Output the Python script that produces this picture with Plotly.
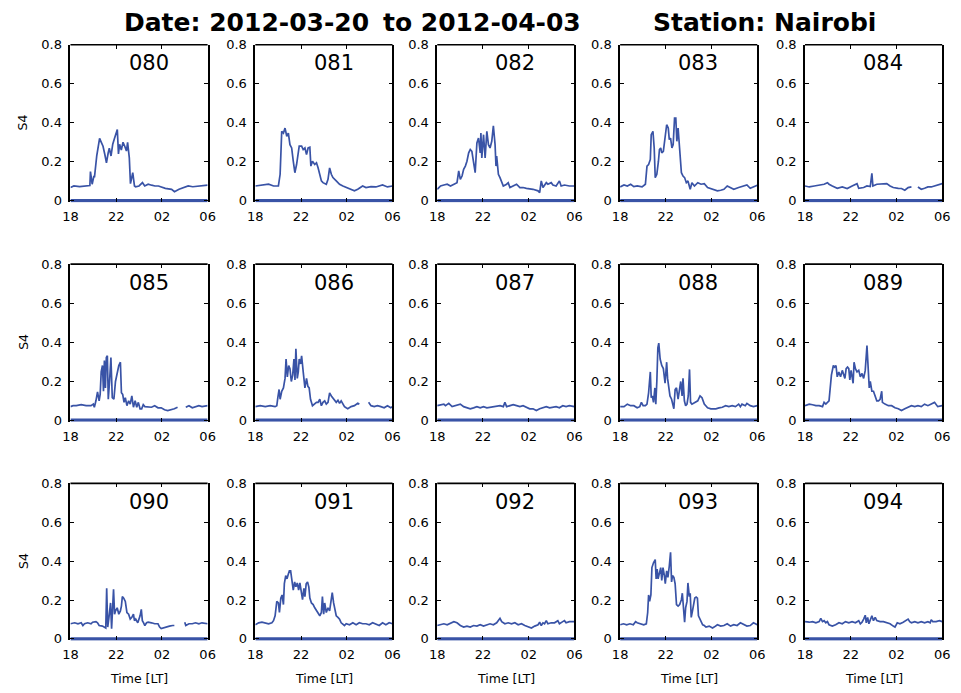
import plotly.graph_objects as go

DAYS = ["080", "081", "082", "083", "084", "085", "086", "087",
        "088", "089", "090", "091", "092", "093", "094"]
X_TICKVALS = [18, 22, 26, 30]
X_TICKTEXT = ["18", "22", "02", "06"]
Y_TICKVALS = [0, 0.2, 0.4, 0.6, 0.8]
Y_TICKTEXT = ["0", "0.2", "0.4", "0.6", "0.8"]
TITLE_DATE_FROM = "Date: 2012-03-20"
TITLE_DATE_TO = "to 2012-04-03"
TITLE_STATION = "Station: Nairobi"
Y_LABEL = "S4"
X_LABEL = "Time [LT]"

# (local time in hours after 18:00 expressed as 18..30, S4 value); None = data gap
D080 = [(18.0, .068), (18.3, .076), (18.8, .073), (19.3, .076), (19.7, .078), (19.75, .15), (19.9, .085),
        (20.05, .127), (20.1, .12), (20.3, .23), (20.55, .32), (20.7, .30), (20.85, .28), (21.0, .24),
        (21.15, .195), (21.3, .245), (21.4, .27), (21.55, .23), (21.7, .29), (21.85, .32), (22.0, .35),
        (22.1, .365), (22.2, .24), (22.3, .29), (22.45, .26), (22.6, .30), (22.75, .28), (22.9, .255),
        (23.0, .30), (23.15, .22), (23.25, .088), (23.35, .12), (23.45, .144), (23.6, .076), (23.7, .072),
        (24.0, .076), (24.3, .093), (24.5, .076), (24.8, .085), (25.1, .080), (25.4, .076), (25.7, .076),
        (26.3, .064), (26.85, .059), (27.1, .047), (27.5, .059), (27.9, .068), (28.3, .076), (28.7, .072),
        (29.2, .074), (30.0, .080)]
D081 = [(18.0, .076), (19.16, .085), (19.6, .076), (20.02, .076), (20.17, .136), (20.31, .356), (20.46, .347),
        (20.6, .373), (20.75, .331), (20.89, .347), (21.03, .288), (21.18, .271), (21.32, .203), (21.46, .144),
        (21.61, .186), (21.76, .237), (21.84, .28), (22.05, .28), (22.19, .263), (22.34, .271), (22.48, .237),
        (22.62, .271), (22.77, .275), (22.86, .178), (23.0, .203), (23.2, .186), (23.35, .195), (23.49, .169),
        (23.64, .127), (23.78, .102), (23.92, .093), (24.21, .085), (24.36, .11), (24.5, .169), (24.65, .136),
        (24.79, .119), (25.08, .102), (25.37, .085), (25.66, .076), (25.95, .068), (26.38, .059), (26.67, .051),
        (26.96, .059), (27.39, .076), (27.68, .068), (28.12, .073), (28.55, .071), (29.13, .081), (29.56, .071),
        (30.0, .076)]
D082 = [(18.0, .059), (18.29, .076), (18.58, .081), (18.87, .085), (19.16, .076), (19.45, .085), (19.73, .093),
        (19.88, .153), (20.02, .11), (20.17, .127), (20.31, .161), (20.46, .178), (20.6, .203), (20.75, .246),
        (20.89, .263), (21.03, .254), (21.18, .203), (21.32, .144), (21.47, .297), (21.61, .322), (21.76, .246),
        (21.82, .347), (21.9, .22), (22.05, .339), (22.19, .22), (22.34, .356), (22.48, .288), (22.62, .271),
        (22.77, .305), (22.91, .385), (23.06, .288), (23.14, .178), (23.2, .229), (23.35, .136), (23.49, .119),
        (23.64, .093), (23.78, .076), (24.07, .085), (24.21, .093), (24.36, .068), (24.65, .076), (24.94, .085),
        (25.23, .068), (25.51, .068), (25.8, .064), (26.09, .063), (26.38, .059), (26.82, .051), (26.96, .042),
        (27.1, .102), (27.25, .068), (27.54, .093), (27.68, .085), (27.97, .093), (28.12, .081), (28.4, .076),
        (28.69, .102), (28.84, .076), (29.13, .081), (29.56, .076), (30.0, .076)]
D083 = [(18.0, .071), (18.34, .081), (18.63, .076), (18.92, .085), (19.2, .073), (19.49, .076), (19.92, .071),
        (20.21, .085), (20.35, .178), (20.49, .186), (20.64, .212), (20.72, .339), (20.87, .356), (20.98, .271),
        (21.07, .119), (21.21, .136), (21.35, .203), (21.44, .263), (21.55, .271), (21.64, .246), (21.78, .254),
        (21.93, .322), (22.07, .39), (22.21, .373), (22.3, .314), (22.41, .322), (22.53, .271), (22.64, .288),
        (22.76, .424), (22.87, .424), (22.96, .305), (23.07, .373), (23.21, .237), (23.36, .144), (23.5, .127),
        (23.64, .119), (23.79, .093), (23.93, .102), (24.13, .059), (24.28, .093), (24.5, .076), (24.79, .093),
        (25.08, .085), (25.36, .088), (25.65, .068), (25.94, .063), (26.22, .056), (26.51, .051), (26.8, .054),
        (27.08, .059), (27.37, .076), (27.66, .068), (27.94, .059), (28.37, .068), (28.8, .076), (29.09, .081),
        (29.38, .064), (29.66, .071), (30.0, .08)]
D084 = [(18.0, .076), (18.37, .071), (18.81, .076), (19.24, .081), (19.67, .085), (19.96, .093), (20.1, .085),
        (20.39, .076), (20.82, .064), (21.26, .071), (21.69, .063), (22.12, .076), (22.55, .088), (22.7, .064),
        (23.13, .068), (23.42, .076), (23.71, .073), (23.85, .141), (23.94, .076), (24.28, .085), (24.86, .085),
        (25.15, .088), (25.44, .076), (25.72, .068), (26.16, .064), (26.44, .063), (26.73, .054), (27.02, .068),
        (27.31, .071), (27.6, None), (27.88, .071), (28.17, .059), (28.46, .064), (28.75, .071), (29.04, .071),
        (29.33, .076), (29.61, .081), (30.0, .088)]
D085 = [(18.0, .069), (18.23, .074), (18.51, .074), (18.94, .079), (19.37, .074), (19.8, .074), (20.0, .082),
        (20.09, .066), (20.23, .099), (20.37, .145), (20.51, .099), (20.6, .132), (20.69, .247), (20.8, .28),
        (20.89, .148), (20.97, .305), (21.06, .165), (21.14, .321), (21.23, .33), (21.31, .107), (21.43, .206),
        (21.54, .321), (21.66, .115), (21.8, .107), (21.94, .198), (22.09, .247), (22.23, .28), (22.37, .297),
        (22.46, .14), (22.57, .132), (22.69, .091), (22.8, .115), (22.94, .074), (23.09, .099), (23.23, .082),
        (23.37, .124), (23.51, .066), (23.66, .099), (23.8, .066), (23.94, .091), (24.09, .058), (24.23, .058),
        (24.37, .079), (24.51, .069), (24.8, .069), (25.09, .066), (25.37, .074), (25.66, .063), (25.94, .063),
        (26.23, .053), (26.51, .049), (26.8, .053), (27.09, .058), (27.37, .066), (27.7, None), (28.09, .066),
        (28.37, .074), (28.66, .063), (28.94, .069), (29.23, .074), (29.51, .069), (30.0, .074)]
D086 = [(18.0, .069), (18.43, .074), (18.87, .069), (19.3, .074), (19.73, .069), (19.88, .074), (19.97, .115),
        (20.08, .157), (20.17, .107), (20.31, .148), (20.46, .165), (20.6, .214), (20.69, .313), (20.8, .222),
        (20.92, .28), (21.03, .264), (21.15, .198), (21.27, .231), (21.38, .313), (21.47, .206), (21.55, .366),
        (21.67, .214), (21.76, .247), (21.84, .313), (21.96, .288), (22.05, .33), (22.19, .247), (22.34, .165),
        (22.48, .214), (22.6, .173), (22.71, .165), (22.83, .107), (23.0, .074), (23.2, .082), (23.35, .091),
        (23.49, .091), (23.64, .107), (23.78, .074), (23.92, .091), (24.07, .099), (24.21, .082), (24.36, .091),
        (24.5, .14), (24.65, .124), (24.79, .112), (24.94, .099), (25.08, .091), (25.23, .102), (25.37, .086),
        (25.51, .099), (25.66, .082), (25.8, .069), (25.95, .063), (26.09, .058), (26.38, .069), (26.67, .074),
        (26.96, .086), (27.1, .082), (27.5, None), (27.91, .091), (28.12, .074), (28.4, .069), (28.69, .074),
        (28.98, .069), (29.27, .063), (29.56, .074), (29.85, .063), (30.0, .069)]
D087 = [(18.0, .074), (18.29, .079), (18.58, .082), (18.72, .074), (19.01, .086), (19.3, .069), (19.59, .074),
        (19.88, .082), (20.02, .082), (20.31, .069), (20.6, .063), (20.89, .058), (21.18, .063), (21.47, .069),
        (21.76, .063), (22.05, .069), (22.34, .063), (22.62, .066), (22.91, .069), (23.2, .074), (23.49, .074),
        (23.78, .069), (23.92, .091), (24.07, .069), (24.36, .074), (24.65, .079), (24.94, .074), (25.23, .069),
        (25.51, .074), (25.8, .066), (26.09, .058), (26.38, .058), (26.67, .049), (26.96, .058), (27.25, .063),
        (27.54, .069), (27.83, .063), (28.12, .066), (28.4, .069), (28.69, .063), (28.98, .074), (29.27, .069),
        (29.56, .074), (30.0, .069)]
D088 = [(18.0, .069), (18.34, .069), (18.63, .082), (18.92, .074), (19.2, .074), (19.49, .063), (19.72, .069),
        (19.86, .091), (20.01, .074), (20.21, .074), (20.35, .082), (20.49, .14), (20.64, .247), (20.72, .115),
        (20.81, .124), (20.92, .091), (21.04, .165), (21.12, .082), (21.21, .198), (21.3, .371), (21.38, .395),
        (21.5, .313), (21.64, .28), (21.78, .264), (21.93, .189), (22.07, .297), (22.15, .214), (22.27, .165),
        (22.36, .124), (22.5, .107), (22.7, .058), (22.81, .157), (22.93, .165), (23.07, .107), (23.21, .157),
        (23.3, .198), (23.42, .124), (23.5, .214), (23.62, .099), (23.73, .074), (23.85, .082), (23.96, .124),
        (24.07, .26), (24.16, .091), (24.28, .082), (24.42, .086), (24.56, .091), (24.79, .099), (24.99, .124),
        (25.16, .115), (25.36, .082), (25.65, .063), (25.94, .058), (26.37, .058), (26.65, .063), (26.94, .066),
        (27.23, .074), (27.51, .069), (27.8, .074), (28.09, .069), (28.37, .082), (28.52, .069), (28.66, .082),
        (28.95, .074), (29.09, .086), (29.38, .074), (29.66, .069), (30.0, .074)]
D089 = [(18.0, .074), (18.37, .082), (18.66, .079), (18.95, .074), (19.24, .074), (19.53, .069), (19.67, .091),
        (19.82, .082), (20.1, .099), (20.31, .231), (20.48, .28), (20.59, .272), (20.71, .28), (20.82, .222),
        (20.96, .247), (21.11, .222), (21.26, .255), (21.4, .231), (21.49, .214), (21.6, .264), (21.72, .272),
        (21.83, .264), (21.92, .206), (22.03, .255), (22.12, .206), (22.21, .189), (22.29, .297), (22.41, .264),
        (22.55, .247), (22.7, .255), (22.84, .222), (22.99, .239), (23.13, .214), (23.27, .255), (23.42, .382),
        (23.53, .28), (23.62, .165), (23.71, .198), (23.85, .148), (23.99, .148), (24.14, .124), (24.28, .099),
        (24.43, .099), (24.57, .107), (24.71, .148), (24.77, .091), (25.0, .082), (25.29, .074), (25.58, .074),
        (25.87, .063), (26.16, .058), (26.44, .049), (26.73, .058), (27.02, .066), (27.31, .074), (27.6, .069),
        (27.88, .074), (28.17, .069), (28.46, .082), (28.75, .074), (29.04, .082), (29.33, .091), (29.61, .069),
        (30.0, .074)]
D090 = [(18.0, .078), (18.37, .083), (18.66, .078), (18.94, .083), (19.09, .069), (19.23, .078), (19.51, .083),
        (19.8, .078), (19.94, .086), (20.23, .089), (20.37, .083), (20.51, .069), (20.8, .066), (20.94, .061),
        (21.09, .056), (21.17, .26), (21.26, .061), (21.37, .111), (21.51, .185), (21.6, .053), (21.69, .202),
        (21.77, .255), (21.86, .127), (21.94, .144), (22.09, .16), (22.23, .127), (22.37, .144), (22.46, .169),
        (22.54, .218), (22.66, .21), (22.8, .193), (22.94, .136), (23.09, .127), (23.23, .102), (23.37, .111),
        (23.51, .127), (23.6, .094), (23.71, .102), (23.89, .083), (24.09, .119), (24.2, .152), (24.29, .094),
        (24.4, .083), (24.51, .069), (24.66, .083), (24.8, .086), (25.09, .083), (25.37, .078), (25.66, .078),
        (25.8, .061), (25.94, .053), (26.09, .056), (26.37, .061), (26.66, .066), (26.94, .069), (27.09, .069),
        (27.5, None), (28.0, .086), (28.09, .069), (28.37, .078), (28.66, .078), (28.94, .083), (29.23, .078),
        (29.51, .083), (30.0, .078)]
D091 = [(18.0, .073), (18.29, .083), (18.58, .086), (18.87, .083), (19.16, .078), (19.45, .083), (19.59, .094),
        (19.73, .119), (19.88, .193), (20.02, .185), (20.11, .136), (20.23, .21), (20.34, .226), (20.46, .177),
        (20.54, .284), (20.66, .326), (20.77, .309), (20.89, .334), (20.98, .35), (21.09, .35), (21.21, .293),
        (21.32, .251), (21.44, .293), (21.55, .268), (21.67, .288), (21.79, .251), (21.9, .288), (22.02, .243),
        (22.13, .202), (22.25, .26), (22.34, .218), (22.45, .284), (22.57, .293), (22.68, .268), (22.77, .21),
        (22.91, .185), (23.06, .177), (23.2, .16), (23.35, .144), (23.49, .127), (23.64, .119), (23.78, .136),
        (23.87, .218), (23.98, .127), (24.07, .185), (24.21, .136), (24.36, .16), (24.5, .144), (24.65, .193),
        (24.73, .238), (24.85, .185), (24.94, .152), (25.08, .119), (25.23, .111), (25.37, .102), (25.51, .083),
        (25.66, .078), (25.8, .069), (25.95, .078), (26.24, .073), (26.53, .083), (26.82, .073), (27.1, .083),
        (27.39, .078), (27.68, .078), (27.97, .073), (28.26, .083), (28.55, .078), (28.84, .069), (29.13, .083),
        (29.42, .073), (29.71, .083), (30.0, .078)]
D092 = [(18.0, .069), (18.29, .073), (18.58, .078), (18.87, .073), (19.16, .083), (19.45, .089), (19.73, .083),
        (20.02, .069), (20.31, .061), (20.6, .066), (20.89, .061), (21.18, .069), (21.47, .066), (21.76, .073),
        (22.05, .066), (22.34, .073), (22.62, .078), (22.91, .073), (23.2, .083), (23.49, .106), (23.64, .089),
        (23.92, .078), (24.21, .083), (24.5, .078), (24.79, .083), (25.08, .073), (25.37, .078), (25.66, .069),
        (25.95, .061), (26.24, .056), (26.53, .066), (26.82, .073), (26.96, .086), (27.1, .069), (27.25, .083),
        (27.39, .078), (27.54, .094), (27.68, .078), (27.97, .083), (28.26, .083), (28.55, .094), (28.69, .078),
        (28.98, .089), (29.13, .094), (29.27, .083), (29.56, .089), (30.0, .089)]
D093 = [(18.0, .073), (18.29, .078), (18.57, .073), (18.86, .078), (19.15, .073), (19.35, .089), (19.49, .083),
        (19.78, .078), (20.06, .073), (20.29, .078), (20.41, .136), (20.49, .226), (20.58, .193), (20.69, .226),
        (20.78, .367), (20.92, .392), (21.07, .408), (21.15, .309), (21.24, .359), (21.32, .309), (21.44, .334),
        (21.55, .367), (21.64, .301), (21.75, .367), (21.87, .326), (21.95, .284), (22.07, .35), (22.18, .317),
        (22.3, .375), (22.41, .446), (22.5, .293), (22.58, .326), (22.7, .317), (22.81, .284), (22.93, .177),
        (23.07, .169), (23.21, .177), (23.36, .202), (23.44, .235), (23.56, .111), (23.64, .086), (23.73, .16),
        (23.85, .193), (23.93, .288), (24.05, .218), (24.13, .235), (24.22, .111), (24.33, .144), (24.45, .202),
        (24.53, .21), (24.65, .215), (24.76, .21), (24.85, .119), (24.99, .102), (25.22, .073), (25.36, .069),
        (25.51, .061), (25.79, .066), (26.08, .056), (26.22, .061), (26.51, .073), (26.8, .066), (27.08, .069),
        (27.37, .078), (27.66, .066), (27.94, .073), (28.23, .069), (28.52, .083), (28.8, .073), (29.09, .066),
        (29.38, .069), (29.66, .083), (30.0, .073)]
D094 = [(18.0, .089), (18.37, .086), (18.66, .089), (18.95, .083), (19.24, .089), (19.38, .106), (19.53, .089),
        (19.67, .094), (19.82, .083), (19.96, .089), (20.1, .073), (20.39, .066), (20.68, .073), (20.97, .083),
        (21.26, .078), (21.54, .089), (21.83, .083), (22.12, .089), (22.41, .083), (22.7, .094), (22.84, .078),
        (22.99, .086), (23.13, .102), (23.27, .122), (23.36, .083), (23.48, .111), (23.59, .078), (23.71, .102),
        (23.85, .119), (23.99, .094), (24.14, .111), (24.28, .094), (24.57, .089), (24.86, .089), (25.15, .083),
        (25.44, .078), (25.72, .066), (25.87, .061), (26.07, .083), (26.3, .078), (26.59, .086), (26.88, .094),
        (27.02, .102), (27.16, .089), (27.31, .083), (27.6, .089), (27.88, .083), (28.17, .089), (28.46, .083),
        (28.75, .089), (28.95, .083), (29.04, .099), (29.18, .089), (29.47, .089), (29.76, .094), (30.0, .089)]

SERIES = [D080, D081, D082, D083, D084, D085, D086, D087,
          D088, D089, D090, D091, D092, D093, D094]

# ---------------- layout (pixels) ----------------
W, H = 961, 693
COL_LEFT = [63.5, 251.5, 436.5, 622.5, 810.5]
PANEL_W = 139.5
ROW_TOP = [38.5, 262, 485.5]
ROW_ZERO = [197.5, 421, 644]
PAD = 1.6                      # pixels below the zero line inside the panel
YMIN = -0.008
BLUE = "#3953a6"
FONT = "DejaVu Sans"
TITLE_Y = 16

fig = go.Figure()
annotations = []
shapes = []
layout_axes = {}

for i, (day, data) in enumerate(zip(DAYS, SERIES)):
    r, c = divmod(i, 5)
    k = i + 1
    xs = "x" if k == 1 else f"x{k}"
    ys = "y" if k == 1 else f"y{k}"
    xa = "xaxis" if k == 1 else f"xaxis{k}"
    ya = "yaxis" if k == 1 else f"yaxis{k}"
    t = [p[0] for p in data]
    v = [p[1] for p in data]
    fig.add_trace(go.Scatter(x=[18, 30], y=[0, 0], mode="lines", xaxis=xs, yaxis=ys,
                             line=dict(color=BLUE, width=3.4), hoverinfo="skip", showlegend=False))
    fig.add_trace(go.Scatter(x=t, y=v, mode="lines", xaxis=xs, yaxis=ys, connectgaps=False,
                             line=dict(color=BLUE, width=1.7), showlegend=False, name=day))
    x0 = COL_LEFT[c] / W
    x1 = (COL_LEFT[c] + PANEL_W) / W
    ytop = 1 - ROW_TOP[r] / H
    ybot = 1 - (ROW_ZERO[r] + PAD) / H
    layout_axes[xa] = dict(domain=[x0, x1], anchor=ys, range=[18, 30], tickvals=X_TICKVALS,
                           ticktext=X_TICKTEXT, ticks="inside", ticklen=4, tickwidth=1, tickcolor="black",
                           showline=False, mirror="ticks", showgrid=False, zeroline=False,
                           tickfont=dict(family=FONT, size=13, color="black"), ticklabelstandoff=5)
    layout_axes[ya] = dict(domain=[ybot, ytop], anchor=xs, range=[YMIN, 0.8], tickvals=Y_TICKVALS,
                           ticktext=Y_TICKTEXT, ticks="inside", ticklen=4, tickwidth=1, tickcolor="black",
                           showline=True, linecolor="black", linewidth=1.6, mirror="ticks",
                           showgrid=False, zeroline=False,
                           tickfont=dict(family=FONT, size=13, color="black"), ticklabelstandoff=4)
    shapes.append(dict(type="line", xref=f"{xs} domain", yref=f"{ys} domain", x0=0, x1=1, y0=1, y1=1,
                       line=dict(color="black", width=1.6)))
    annotations.append(dict(text=day, xref=f"{xs} domain", yref=ys, x=0.57, y=0.705, showarrow=False,
                            xanchor="center", yanchor="middle",
                            font=dict(family=FONT, size=21, color="black")))
    if c == 0:
        annotations.append(dict(text=Y_LABEL, xref="paper", yref="paper", x=15 / W,
                                y=1 - (ROW_TOP[r] + ROW_ZERO[r]) / 2 / H, showarrow=False, textangle=-90,
                                xanchor="center", yanchor="middle",
                                font=dict(family=FONT, size=12.5, color="black")))
    if r == 2:
        annotations.append(dict(text=X_LABEL, xref="paper", yref="paper",
                                x=(COL_LEFT[c] + PANEL_W / 2) / W, y=1 - 684 / H, showarrow=False,
                                xanchor="center", yanchor="middle",
                                font=dict(family=FONT, size=12.5, color="black")))

for txt, xpx in [(TITLE_DATE_FROM, 117), (TITLE_DATE_TO, 380), (TITLE_STATION, 655)]:
    annotations.append(dict(text="<b>" + txt + "</b>", xref="paper", yref="paper", x=xpx / W,
                            y=1 - TITLE_Y / H, xanchor="left", yanchor="middle", showarrow=False,
                            borderpad=0, font=dict(family=FONT, size=25, color="black")))

fig.update_layout(width=W, height=H, margin=dict(l=0, r=0, t=0, b=0), paper_bgcolor="white",
                  plot_bgcolor="white", showlegend=False, annotations=annotations, shapes=shapes,
                  **layout_axes)
fig.write_html("out.html")
